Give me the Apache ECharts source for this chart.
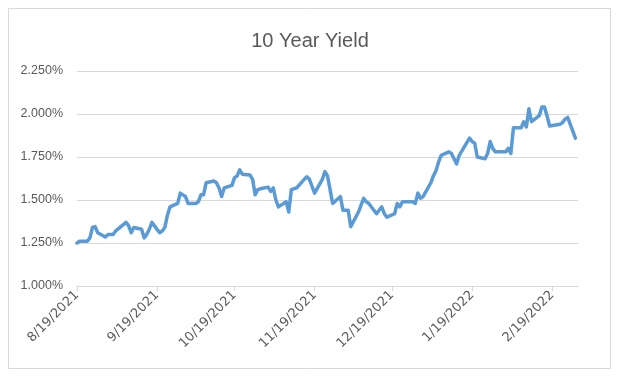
<!DOCTYPE html>
<html>
<head>
<meta charset="utf-8">
<script src="https://cdn.jsdelivr.net/npm/echarts@6/dist/echarts.min.js"></script>
<style>html,body{margin:0;padding:0;background:#fff}#c{width:620px;height:385px}</style>
</head>
<body>
<div id="c"></div>
<script>
var axisStart = '8/19/2021';
var axisEnd = '3/1/2022';
var yTicks = [1.0, 1.25, 1.5, 1.75, 2.0, 2.25];

var tradeDates = ['8/19/2021','8/20/2021','8/23/2021','8/24/2021','8/25/2021','8/26/2021','8/27/2021','8/30/2021','8/31/2021',
'9/1/2021','9/2/2021','9/3/2021','9/7/2021','9/8/2021','9/9/2021','9/10/2021','9/13/2021','9/14/2021','9/15/2021','9/16/2021','9/17/2021','9/20/2021','9/21/2021','9/22/2021','9/23/2021','9/24/2021','9/27/2021','9/28/2021','9/29/2021','9/30/2021',
'10/1/2021','10/4/2021','10/5/2021','10/6/2021','10/7/2021','10/8/2021','10/11/2021','10/12/2021','10/13/2021','10/14/2021','10/15/2021','10/18/2021','10/19/2021','10/20/2021','10/21/2021','10/22/2021','10/25/2021','10/26/2021','10/27/2021','10/28/2021','10/29/2021',
'11/1/2021','11/2/2021','11/3/2021','11/4/2021','11/5/2021','11/8/2021','11/9/2021','11/10/2021','11/12/2021','11/15/2021','11/16/2021','11/17/2021','11/18/2021','11/19/2021','11/22/2021','11/23/2021','11/24/2021','11/26/2021','11/29/2021','11/30/2021',
'12/1/2021','12/2/2021','12/3/2021','12/6/2021','12/7/2021','12/8/2021','12/9/2021','12/10/2021','12/13/2021','12/14/2021','12/15/2021','12/16/2021','12/17/2021','12/20/2021','12/21/2021','12/22/2021','12/23/2021','12/27/2021','12/28/2021','12/29/2021','12/30/2021','12/31/2021',
'1/3/2022','1/4/2022','1/5/2022','1/6/2022','1/7/2022','1/10/2022','1/11/2022','1/12/2022','1/13/2022','1/14/2022','1/18/2022','1/19/2022','1/20/2022','1/21/2022','1/24/2022','1/25/2022','1/26/2022','1/27/2022','1/28/2022','1/31/2022',
'2/1/2022','2/2/2022','2/3/2022','2/4/2022','2/7/2022','2/8/2022','2/9/2022','2/10/2022','2/11/2022','2/14/2022','2/15/2022','2/16/2022','2/17/2022','2/18/2022','2/22/2022','2/23/2022','2/24/2022','2/25/2022','2/28/2022'];

var yields = [1.25,1.26,1.26,1.28,1.34,1.345,1.31,1.285,1.30,
1.30,1.30,1.32,1.37,1.35,1.31,1.34,1.33,1.28,1.30,1.33,1.37,1.31,1.32,1.34,1.41,1.46,1.48,1.54,1.53,1.52,
1.48,1.48,1.49,1.53,1.53,1.60,1.61,1.60,1.57,1.52,1.57,1.585,1.63,1.64,1.675,1.65,1.645,1.62,1.53,1.56,1.565,
1.575,1.55,1.57,1.50,1.46,1.49,1.43,1.56,1.57,1.62,1.635,1.62,1.58,1.54,1.62,1.665,1.64,1.48,1.52,1.44,
1.44,1.44,1.345,1.43,1.47,1.51,1.49,1.48,1.42,1.44,1.46,1.42,1.40,1.42,1.48,1.46,1.49,1.49,1.48,1.54,1.51,1.52,
1.60,1.64,1.67,1.72,1.76,1.78,1.77,1.74,1.71,1.76,1.86,1.84,1.83,1.75,1.74,1.77,1.84,1.80,1.78,1.78,
1.78,1.80,1.77,1.92,1.92,1.955,1.925,2.03,1.955,1.99,2.04,2.04,1.99,1.93,1.94,1.95,1.97,1.98,1.86];

function parseD(s){var p=s.split('/');return new Date(+p[2],+p[0]-1,+p[1]);}
function fmtD(d){return (d.getMonth()+1)+'/'+d.getDate()+'/'+d.getFullYear();}

var cats = [];
for (var d = parseD(axisStart); d <= parseD(axisEnd); d = new Date(d.getFullYear(), d.getMonth(), d.getDate()+1)) {
  cats.push(fmtD(d));
}
var lookup = {};
tradeDates.forEach(function(t,i){ lookup[t] = yields[i]; });
var seriesData = cats.map(function(c){ return lookup.hasOwnProperty(c) ? lookup[c] : null; });

function isTickDay(idx){ return cats[idx].split('/')[1] === '19'; }

var chart = echarts.init(document.getElementById('c'), null, {renderer:'canvas'});
chart.setOption({
  animation: false,
  backgroundColor: '#ffffff',
  textStyle: { fontFamily: 'Liberation Sans, Arial, sans-serif' },
  title: {
    text: '10 Year Yield',
    left: 'center',
    top: 26,
    textStyle: { fontSize: 20, fontWeight: 'normal', color: '#595959', fontFamily: 'Liberation Sans, Arial, sans-serif' }
  },
  graphic: [{
    type: 'rect', shape: { x: 8.5, y: 8.5, width: 602, height: 360 },
    style: { fill: 'none', stroke: '#d9d9d9', lineWidth: 1 }, silent: true
  }],
  grid: { left: 77, right: 42, top: 71, bottom: 99, containLabel: false },
  xAxis: {
    type: 'category',
    data: cats,
    boundaryGap: false,
    axisLine: { show: true, lineStyle: { color: '#d9d9d9', width: 1 } },
    axisTick: { show: true, interval: function(i){ return isTickDay(i); }, length: 5, lineStyle: { color: '#d9d9d9' } },
    axisLabel: {
      interval: function(i){ return isTickDay(i); },
      rotate: 45, margin: 7, fontSize: 13, color: '#595959',
      fontFamily: 'DejaVu Sans, Liberation Sans, sans-serif'
    },
    splitLine: { show: false }
  },
  yAxis: {
    type: 'value',
    min: yTicks[0], max: yTicks[yTicks.length-1], interval: 0.25,
    axisLine: { show: false }, axisTick: { show: false },
    axisLabel: { formatter: function(v){ return v.toFixed(3) + '%'; }, fontSize: 12.5, color: '#595959', margin: 14,
      fontFamily: 'Liberation Sans, Arial, sans-serif' },
    splitLine: { lineStyle: { color: '#d9d9d9', width: 1 } }
  },
  series: [{
    type: 'line',
    data: seriesData,
    connectNulls: true,
    showSymbol: false,
    symbol: 'none',
    lineStyle: { color: '#5b9bd5', width: 3.5, join: 'round', cap: 'round' },
    itemStyle: { color: '#5b9bd5' }
  }]
});
</script>
</body>
</html>
